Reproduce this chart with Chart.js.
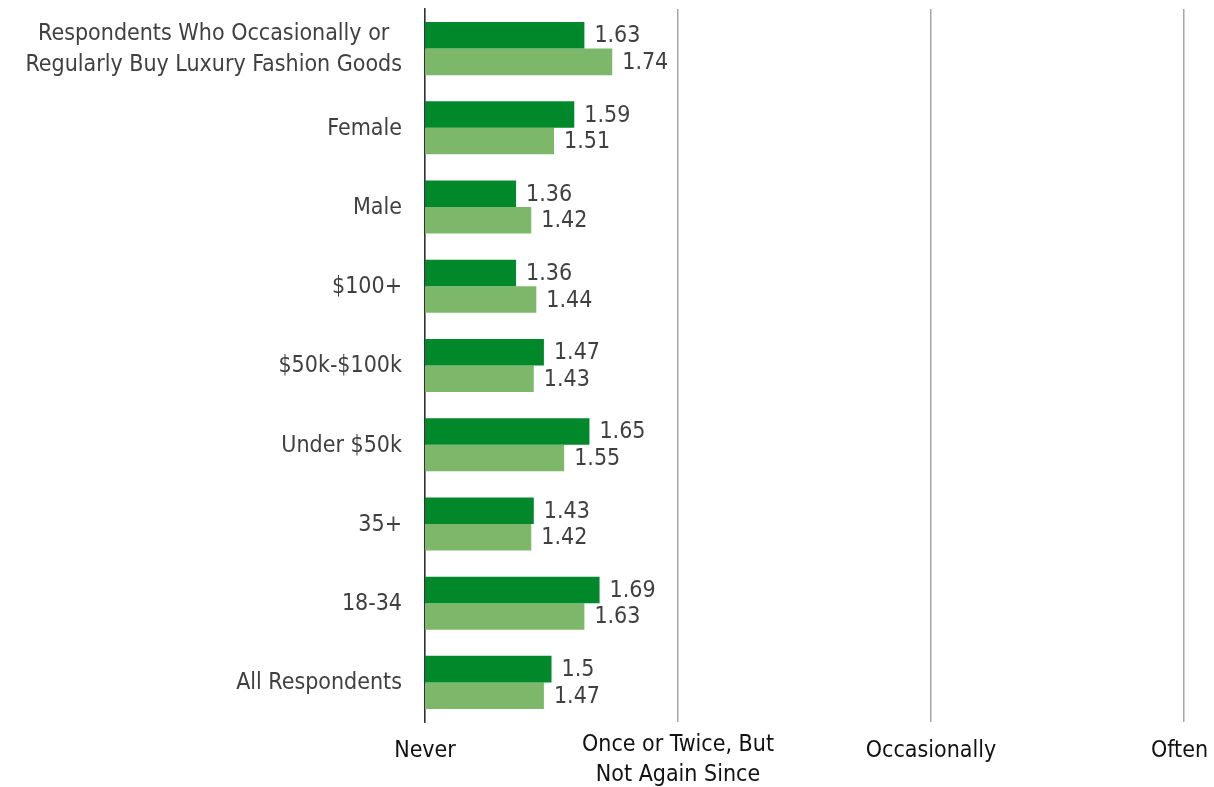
<!DOCTYPE html>
<html>
<head>
<meta charset="utf-8">
<title>Luxury fashion purchase frequency</title>
<script src="https://cdn.jsdelivr.net/npm/chart.js@4/dist/chart.umd.min.js"></script>
<style>
  html, body { margin: 0; padding: 0; background: #ffffff; }
  #wrap { width: 1214px; height: 787px; position: relative; }
</style>
</head>
<body>
<div id="wrap"><canvas id="chart"></canvas></div>
<script>
// Respondent groups, listed top to bottom
const categories = [
  ['Respondents Who Occasionally or', 'Regularly Buy Luxury Fashion Goods'],
  'Female',
  'Male',
  '$100+',
  '$50k-$100k',
  'Under $50k',
  '35+',
  '18-34',
  'All Respondents'
];

// Mean frequency scores (1 = Never ... 4 = Often)
const seriesDark  = [1.63, 1.59, 1.36, 1.36, 1.47, 1.65, 1.43, 1.69, 1.5];
const seriesLight = [1.74, 1.51, 1.42, 1.44, 1.43, 1.55, 1.42, 1.63, 1.47];

// Frequency scale labels for values 1..4
const xTickValues = [1, 2, 3, 4];
const xTickLabels = ['Never', ['Once or Twice, But', 'Not Again Since'], 'Occasionally', 'Often'];

const FONT = "'DejaVu Sans Condensed', Tahoma, 'DejaVu Sans', sans-serif";
const FONT_SIZE = 23;
const LABEL_COLOR = '#404040';

// Category labels: right-aligned block, lines centered within the block
const categoryLabels = {
  id: 'categoryLabels',
  afterDraw(chart) {
    const y = chart.scales.y;
    const ctx = chart.ctx;
    const right = chart.chartArea.left - 23;
    const lineH = 31;
    ctx.save();
    ctx.font = FONT_SIZE + 'px ' + FONT;
    ctx.fillStyle = LABEL_COLOR;
    ctx.textBaseline = 'middle';
    ctx.textAlign = 'center';
    categories.forEach((label, i) => {
      const lines = Array.isArray(label) ? label : [label];
      const maxW = Math.max(...lines.map(l => ctx.measureText(l).width));
      const cx = right - maxW / 2;
      const cy = y.getPixelForTick(i) + 1;
      const top = cy - (lines.length - 1) * lineH / 2;
      lines.forEach((l, k) => ctx.fillText(l, cx, top + k * lineH));
    });
    ctx.restore();
  }
};

// Frequency labels under the plot, kept inside the canvas edge
const frequencyLabels = {
  id: 'frequencyLabels',
  afterDraw(chart) {
    const x = chart.scales.x;
    const ctx = chart.ctx;
    const lineH = 30;
    const base = chart.chartArea.bottom + 35;
    ctx.save();
    ctx.font = FONT_SIZE + 'px ' + FONT;
    ctx.fillStyle = '#111111';
    ctx.textBaseline = 'alphabetic';
    ctx.textAlign = 'center';
    xTickValues.forEach((v, i) => {
      const label = xTickLabels[i];
      const lines = Array.isArray(label) ? label : [label];
      const maxW = Math.max(...lines.map(l => ctx.measureText(l).width));
      let cx = x.getPixelForValue(v);
      const limit = chart.width - 6;
      if (cx + maxW / 2 > limit) cx = limit - maxW / 2;
      const first = lines.length > 1 ? base - 6 : base;
      lines.forEach((l, k) => ctx.fillText(l, cx, first + k * lineH));
    });
    ctx.restore();
  }
};

// Value labels just past the end of each bar
const valueLabels = {
  id: 'valueLabels',
  afterDatasetsDraw(chart) {
    const ctx = chart.ctx;
    ctx.save();
    ctx.font = FONT_SIZE + 'px ' + FONT;
    ctx.fillStyle = LABEL_COLOR;
    ctx.textBaseline = 'middle';
    ctx.textAlign = 'left';
    chart.data.datasets.forEach((ds, di) => {
      chart.getDatasetMeta(di).data.forEach((bar, i) => {
        ctx.fillText(String(ds.data[i]), bar.x + 10, bar.y + 1);
      });
    });
    ctx.restore();
  }
};

new Chart(document.getElementById('chart'), {
  type: 'bar',
  data: {
    labels: categories,
    datasets: [
      { data: seriesDark,  backgroundColor: '#00882B', barPercentage: 1, categoryPercentage: 0.67 },
      { data: seriesLight, backgroundColor: '#7DB86A', barPercentage: 1, categoryPercentage: 0.67 }
    ]
  },
  options: {
    indexAxis: 'y',
    responsive: true,
    maintainAspectRatio: false,
    animation: false,
    layout: { padding: { top: 9, right: 30, left: 0, bottom: 0 } },
    plugins: {
      legend: { display: false },
      tooltip: { enabled: false }
    },
    scales: {
      x: {
        min: 1,
        max: 4,
        ticks: {
          stepSize: 1,
          display: false
        },
        grid: { color: '#A6A6A6', lineWidth: 1.5, drawTicks: false },
        border: { display: false },
        afterFit: (scale) => { scale.height = 65; }
      },
      y: {
        ticks: { display: false },
        grid: { display: false, drawTicks: false },
        border: { color: '#333333', width: 1.5 },
        afterFit: (scale) => { scale.width = 425; }
      }
    }
  },
  plugins: [valueLabels, categoryLabels, frequencyLabels]
});
</script>
</body>
</html>
